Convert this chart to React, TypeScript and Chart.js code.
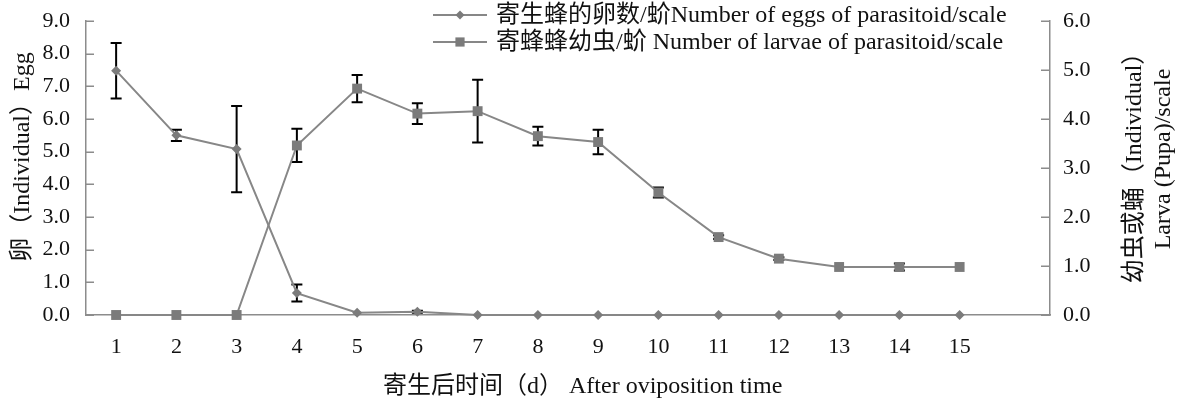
import React, { useEffect, useRef } from "react";
import { Chart, registerables } from "chart.js";

Chart.register(...registerables);

const days = ["1", "2", "3", "4", "5", "6", "7", "8", "9", "10", "11", "12", "13", "14", "15", ""];
const eggs = [7.48, 5.5, 5.08, 0.67, 0.07, 0.1, 0, 0, 0, 0, 0, 0, 0, 0, 0];
const eggErr = [0.85, 0.17, 1.32, 0.26, 0, 0.03, 0, 0, 0, 0, 0, 0, 0, 0, 0];
const larvae = [0, 0, 0, 3.46, 4.62, 4.11, 4.16, 3.65, 3.53, 2.5, 1.59, 1.15, 0.98, 0.98, 0.98];
const larvaeErr = [0, 0, 0, 0.34, 0.28, 0.21, 0.64, 0.19, 0.25, 0.1, 0.04, 0.03, 0, 0.07, 0];
const leftTicks = [0, 1, 2, 3, 4, 5, 6, 7, 8, 9];
const rightTicks = [0, 1, 2, 3, 4, 5, 6];

const eggLabel = "寄生蜂的卵数/蚧Number of eggs of parasitoid/scale";
const larvaLabel = "寄蜂蜂幼虫/蚧 Number of larvae of parasitoid/scale";
const xTitle = "寄生后时间（d） After oviposition time";
const leftTitle = "卵（Individual）Egg";
const rightTitle1 = "幼虫或蛹（Individual）";
const rightTitle2 = "Larva (Pupa)/scale";

const FONT = '"Liberation Serif", "Times New Roman", "Noto Sans CJK SC", serif';
const LINE = "#878787";
const MARK = "#7b7b7b";
const AXIS = "#8c8c8c";

function drawMarker(ctx: CanvasRenderingContext2D, style: string, x: number, y: number, r: number) {
  ctx.save();
  ctx.fillStyle = MARK;
  ctx.beginPath();
  if (style === "rect") {
    const s = Math.SQRT1_2 * r;
    ctx.rect(x - s, y - s, 2 * s, 2 * s);
  } else {
    ctx.moveTo(x, y - r);
    ctx.lineTo(x + r, y);
    ctx.lineTo(x, y + r);
    ctx.lineTo(x - r, y);
    ctx.closePath();
  }
  ctx.fill();
  ctx.restore();
}

const customPlugin = {
  id: "custom",
  beforeDatasetsDraw(chart: any) {
    const ctx: CanvasRenderingContext2D = chart.ctx;
    const x = chart.scales.x;
    const sets = [
      { vals: eggs, errs: eggErr, scale: chart.scales.y },
      { vals: larvae, errs: larvaeErr, scale: chart.scales.y1 },
    ];
    ctx.save();
    ctx.strokeStyle = "#000";
    ctx.lineWidth = 2;
    for (const s of sets) {
      s.vals.forEach((v, i) => {
        const e = s.errs[i];
        if (!e) return;
        const px = x.getPixelForValue(i);
        const yt = s.scale.getPixelForValue(v + e);
        const yb = s.scale.getPixelForValue(Math.max(0, v - e));
        ctx.beginPath();
        ctx.moveTo(px, yt);
        ctx.lineTo(px, yb);
        ctx.moveTo(px - 5.5, yt);
        ctx.lineTo(px + 5.5, yt);
        ctx.moveTo(px - 5.5, yb);
        ctx.lineTo(px + 5.5, yb);
        ctx.stroke();
      });
    }
    ctx.restore();
  },
  afterDraw(chart: any) {
    const ctx: CanvasRenderingContext2D = chart.ctx;
    const area = chart.chartArea;
    const yl = chart.scales.y;
    const yr = chart.scales.y1;
    ctx.save();
    // inward tick marks
    ctx.strokeStyle = AXIS;
    ctx.lineWidth = 1.5;
    ctx.beginPath();
    leftTicks.forEach((t) => {
      const py = Math.round(yl.getPixelForValue(t)) + 0.25;
      ctx.moveTo(area.left, py);
      ctx.lineTo(area.left + 8, py);
    });
    rightTicks.forEach((t) => {
      const py = Math.round(yr.getPixelForValue(t)) + 0.25;
      ctx.moveTo(area.right, py);
      ctx.lineTo(area.right - 9, py);
    });
    ctx.stroke();

    // legend
    const legend = [
      { label: eggLabel, style: "rectRot", r: 4.5, y: 15 },
      { label: larvaLabel, style: "rect", r: 6.5, y: 42 },
    ];
    ctx.font = `24px ${FONT}`;
    ctx.textBaseline = "middle";
    ctx.textAlign = "left";
    legend.forEach((l) => {
      ctx.strokeStyle = LINE;
      ctx.lineWidth = 2;
      ctx.beginPath();
      ctx.moveTo(433, l.y);
      ctx.lineTo(487, l.y);
      ctx.stroke();
      drawMarker(ctx, l.style, 460, l.y, l.r);
      ctx.fillStyle = "#111";
      ctx.fillText(l.label, 496, l.y + 1);
    });

    // axis titles
    ctx.fillStyle = "#111";
    ctx.font = `24px ${FONT}`;
    ctx.textBaseline = "middle";
    ctx.textAlign = "left";
    ctx.fillText(xTitle, 383, 387);

    ctx.textAlign = "center";
    ctx.save();
    ctx.translate(23, 157);
    ctx.rotate(-Math.PI / 2);
    ctx.fillText(leftTitle, 0, 0);
    ctx.restore();

    ctx.save();
    ctx.translate(1135, 162);
    ctx.rotate(-Math.PI / 2);
    ctx.fillText(rightTitle1, 0, 0);
    ctx.restore();

    ctx.save();
    ctx.translate(1164, 159);
    ctx.rotate(-Math.PI / 2);
    ctx.fillText(rightTitle2, 0, 0);
    ctx.restore();

    ctx.restore();
  },
};

export default function App() {
  const ref = useRef<HTMLCanvasElement>(null);
  useEffect(() => {
    if (!ref.current) return;
    const chart = new Chart(ref.current, {
      type: "line",
      data: {
        labels: days,
        datasets: [
          {
            label: larvaLabel,
            data: larvae,
            yAxisID: "y1",
            borderColor: LINE,
            borderWidth: 2,
            backgroundColor: MARK,
            pointStyle: "rect",
            pointRadius: 7,
            pointBorderWidth: 0,
            pointBackgroundColor: MARK,
            tension: 0,
            clip: false,
          },
          {
            label: eggLabel,
            data: eggs,
            yAxisID: "y",
            borderColor: LINE,
            borderWidth: 2,
            backgroundColor: MARK,
            pointStyle: "rectRot",
            pointRadius: 5,
            pointBorderWidth: 0,
            pointBackgroundColor: MARK,
            tension: 0,
            clip: false,
          },
        ],
      },
      options: {
        animation: false,
        responsive: false,
        events: [],
        layout: { padding: { top: 21, left: 0, right: 0, bottom: 0 } },
        plugins: {
          legend: { display: false },
          tooltip: { enabled: false },
          title: { display: false },
        },
        scales: {
          x: {
            type: "category",
            offset: true,
            grid: { display: false, drawTicks: false },
            border: { display: true, color: AXIS, width: 1.5 },
            ticks: {
              color: "#111",
              font: { family: FONT, size: 22 },
              padding: 19,
              autoSkip: false,
              maxRotation: 0,
            },
            afterFit: (s: any) => {
              s.height = 90;
              s.paddingLeft = 0;
              s.paddingRight = 0;
            },
          },
          y: {
            position: "left",
            min: 0,
            max: 9,
            grid: { display: false, drawTicks: false },
            border: { display: true, color: AXIS, width: 1.5 },
            ticks: {
              stepSize: 1,
              color: "#111",
              font: { family: FONT, size: 22 },
              padding: 16,
              callback: (v: any) => Number(v).toFixed(1),
            },
            afterFit: (s: any) => {
              s.width = 86;
              s.paddingTop = 0;
              s.paddingBottom = 0;
            },
          },
          y1: {
            position: "right",
            min: 0,
            max: 6,
            grid: { display: false, drawTicks: false },
            border: { display: true, color: AXIS, width: 1.5 },
            ticks: {
              stepSize: 1,
              color: "#111",
              font: { family: FONT, size: 22 },
              padding: 13,
              callback: (v: any) => Number(v).toFixed(1),
            },
            afterFit: (s: any) => {
              s.width = 139;
              s.paddingTop = 0;
              s.paddingBottom = 0;
            },
          },
        },
      },
      plugins: [customPlugin],
    } as any);
    return () => chart.destroy();
  }, []);
  return (
    <div style={{ position: "absolute", left: 0, top: 0, width: 1189, height: 405, background: "#fff" }}>
      <canvas ref={ref} width={1189} height={405} style={{ display: "block" }} />
    </div>
  );
}
